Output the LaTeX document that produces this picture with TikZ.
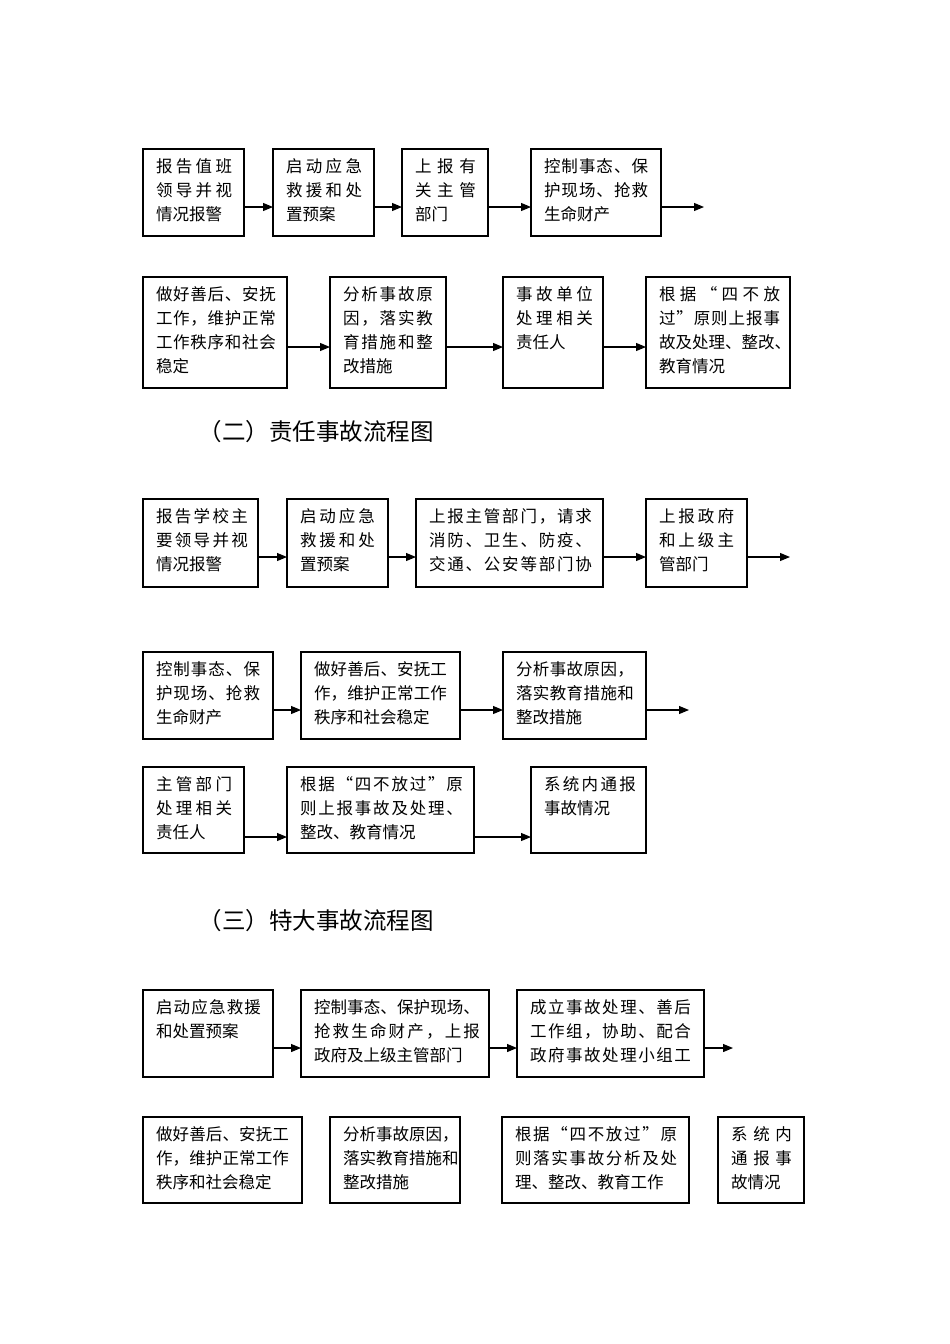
\documentclass[tikz,border=0pt]{standalone}
\usepackage{fontspec}
\newfontfamily\cjk[RawFeature=+fwid]{Noto Sans CJK SC}
\usetikzlibrary{arrows.meta}
\makeatletter
\def\SP#1{\SP@first#1\SP@end}
\def\SP@first#1{#1\SP@next}
\def\SP@next#1{\ifx\SP@end#1\else\hfill#1\expandafter\SP@next\fi}
\def\SP@end{}
\makeatother
\newcommand{\SL}[2]{\makebox[#1pt][l]{\SP{#2}}}
\newcommand{\Bx}[6]{%
 \node[bx, minimum width={#4-#2}, minimum height={#5-#3}] (#1) at ({(#2+#4)/2},{(#3+#5)/2}) {};
 \node[tx] (#1t) at ({#2+13},{#3+7.8}) {\rule{0pt}{16pt}#6};}
\tikzset{
 bx/.style={draw, rectangle, line width=1.1pt, inner sep=0pt, outer sep=0pt},
 tx/.style={anchor=north west, inner sep=0pt, outer sep=0pt, align=left, font=\cjk\fontsize{16.5}{24}\selectfont},
 arr/.style={line width=1.1pt, -{Triangle[length=10pt,width=8pt]}},
 hd/.style={anchor=base east, inner sep=0pt, font=\cjk\fontsize{23.5}{28}\selectfont}
}
\begin{document}
\begin{tikzpicture}[x=1pt,y=-1pt]
\path[use as bounding box, fill=white] (0,0) rectangle (950,1344);
% ---------- section 1 ----------
\Bx{a1}{143}{149}{244}{236}{\SL{76}{报告值班}\\\SL{76}{领导并视}\\情况报警}
\Bx{a2}{273}{149}{374}{236}{\SL{76}{启动应急}\\\SL{76}{救援和处}\\置预案}
\Bx{a3}{402}{149}{488}{236}{\SL{61}{上报有}\\\SL{61}{关主管}\\部门}
\Bx{a4}{531}{149}{661}{236}{\SL{104}{控制事态、保}\\\SL{104}{护现场、抢救}\\生命财产}
\coordinate (r11) at (0,207);
\coordinate (e11) at (704,207);
\draw[arr] (a1.east |- r11) -- (a2.west |- r11);
\draw[arr] (a2.east |- r11) -- (a3.west |- r11);
\draw[arr] (a3.east |- r11) -- (a4.west |- r11);
\draw[arr] (a4.east |- r11) -- (e11);

\Bx{b1}{143}{277}{287}{388}{\SL{120}{做好善后、安抚}\\\SL{120}{工作，维护正常}\\\SL{120}{工作秩序和社会}\\稳定}
\Bx{b2}{330}{277}{446}{388}{\SL{90}{分析事故原}\\\SL{90}{因，落实教}\\\SL{90}{育措施和整}\\改措施}
\Bx{b3}{503}{277}{603}{388}{\SL{77}{事故单位}\\\SL{77}{处理相关}\\责任人}
\Bx{b4}{646}{277}{790}{388}{\SL{121}{根据“四不放}\\\SL{121}{过”原则上报事}\\故及处理、整改、\\教育情况}
\coordinate (r12) at (0,347);
\draw[arr] (b1.east |- r12) -- (b2.west |- r12);
\draw[arr] (b2.east |- r12) -- (b3.west |- r12);
\draw[arr] (b3.east |- r12) -- (b4.west |- r12);

\node[hd] (h2) at (434,440) {（二）责任事故流程图};

% ---------- section 2 ----------
\Bx{c1}{143}{499}{258}{587}{\SL{92}{报告学校主}\\\SL{92}{要领导并视}\\情况报警}
\Bx{c2}{287}{499}{388}{587}{\SL{75}{启动应急}\\\SL{75}{救援和处}\\置预案}
\Bx{c3}{416}{499}{603}{587}{\SL{163}{上报主管部门，请求}\\\SL{163}{消防、卫生、防疫、}\\\SL{163}{交通、公安等部门协}}
\Bx{c4}{646}{499}{747}{587}{\SL{75}{上报政府}\\\SL{75}{和上级主}\\管部门}
\coordinate (r21) at (0,557);
\coordinate (e21) at (790,557);
\draw[arr] (c1.east |- r21) -- (c2.west |- r21);
\draw[arr] (c2.east |- r21) -- (c3.west |- r21);
\draw[arr] (c3.east |- r21) -- (c4.west |- r21);
\draw[arr] (c4.east |- r21) -- (e21);

\Bx{d1}{143}{652}{273}{739}{\SL{104}{控制事态、保}\\\SL{104}{护现场、抢救}\\生命财产}
\Bx{d2}{301}{652}{460}{739}{\SL{133}{做好善后、安抚工}\\\SL{133}{作，维护正常工作}\\秩序和社会稳定}
\Bx{d3}{503}{652}{646}{739}{\SL{118}{分析事故原因，}\\\SL{118}{落实教育措施和}\\整改措施}
\coordinate (r22) at (0,710);
\coordinate (e22) at (689,710);
\draw[arr] (d1.east |- r22) -- (d2.west |- r22);
\draw[arr] (d2.east |- r22) -- (d3.west |- r22);
\draw[arr] (d3.east |- r22) -- (e22);

\Bx{f1}{143}{767}{244}{853}{\SL{76}{主管部门}\\\SL{76}{处理相关}\\责任人}
\Bx{f2}{287}{767}{474}{853}{\SL{163}{根据“四不放过”原}\\\SL{163}{则上报事故及处理、}\\整改、教育情况}
\Bx{f3}{531}{767}{646}{853}{\SL{92}{系统内通报}\\事故情况}
\coordinate (r23) at (0,837);
\draw[arr] (f1.east |- r23) -- (f2.west |- r23);
\draw[arr] (f2.east |- r23) -- (f3.west |- r23);

\node[hd] (h3) at (434,929) {（三）特大事故流程图};

% ---------- section 3 ----------
\Bx{g1}{143}{990}{273}{1077}{\SL{105}{启动应急救援}\\和处置预案}
\Bx{g2}{301}{990}{489}{1077}{\SL{166}{控制事态、保护现场、}\\\SL{166}{抢救生命财产，上报}\\政府及上级主管部门}
\Bx{g3}{517}{990}{704}{1077}{\SL{161}{成立事故处理、善后}\\\SL{161}{工作组，协助、配合}\\\SL{161}{政府事故处理小组工}}
\coordinate (r31) at (0,1048);
\coordinate (e31) at (733,1048);
\draw[arr] (g1.east |- r31) -- (g2.west |- r31);
\draw[arr] (g2.east |- r31) -- (g3.west |- r31);
\draw[arr] (g3.east |- r31) -- (e31);

\Bx{k1}{143}{1117}{302}{1203}{\SL{133}{做好善后、安抚工}\\\SL{133}{作，维护正常工作}\\秩序和社会稳定}
\Bx{k2}{330}{1117}{460}{1203}{分析事故原因，\\落实教育措施和\\整改措施}
\Bx{k3}{502}{1117}{689}{1203}{\SL{162}{根据“四不放过”原}\\\SL{162}{则落实事故分析及处}\\理、整改、教育工作}
\Bx{k4}{718}{1117}{804}{1203}{\SL{61}{系统内}\\\SL{61}{通报事}\\故情况}
\end{tikzpicture}
\end{document}
